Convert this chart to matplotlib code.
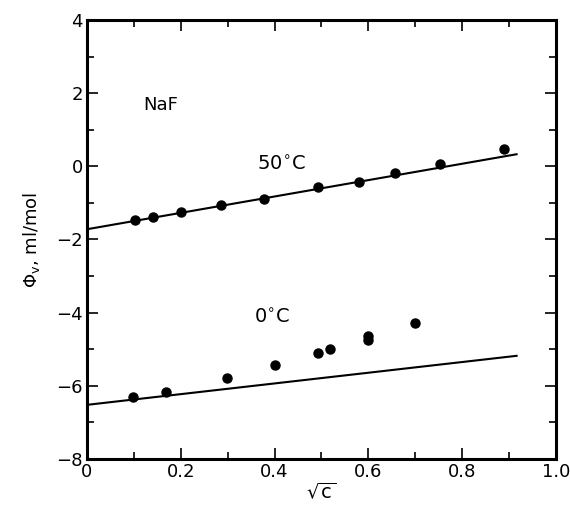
import numpy as np
import matplotlib.pyplot as plt
from matplotlib.ticker import MultipleLocator

# 50 C data points
x50 = [0.103, 0.140, 0.201, 0.285, 0.377, 0.493, 0.580, 0.657, 0.753, 0.890]
y50 = [-1.46, -1.39, -1.24, -1.06, -0.88, -0.57, -0.43, -0.19, 0.06, 0.46]
# 0 C data points
x0 = [0.098, 0.169, 0.299, 0.400, 0.492, 0.518, 0.600, 0.600, 0.700]
y0 = [-6.31, -6.16, -5.79, -5.43, -5.09, -4.99, -4.63, -4.74, -4.27]
# theoretical lines
line_x = [0.0, 0.916]
line50 = [-1.72, 0.33]
line0 = [-6.52, -5.18]

plt.rcParams["font.family"] = ["DejaVu Sans"]
plt.rcParams["mathtext.fontset"] = "dejavusans"

fig = plt.figure(figsize=(5.7, 5.07), dpi=100)
ax = fig.add_axes([0.1526, 0.0947, 0.8228, 0.8659])

ax.plot(line_x, line50, color="black", lw=1.5)
ax.plot(line_x, line0, color="black", lw=1.5)
ax.plot(x50, y50, "o", color="black", ms=6.5)
ax.plot(x0, y0, "o", color="black", ms=6.5)

ax.text(0.12, 1.68, "NaF", fontsize=13, va="center", ha="left")
ax.text(0.415, 0.04, "50$^{\\circ}$C", fontsize=14, va="center", ha="center")
ax.text(0.395, -4.14, "0$^{\\circ}$C", fontsize=14, va="center", ha="center")

ax.set_xlim(0, 1.0)
ax.set_ylim(-8, 4)
ax.xaxis.set_major_locator(MultipleLocator(0.2))
ax.xaxis.set_minor_locator(MultipleLocator(0.1))
ax.yaxis.set_major_locator(MultipleLocator(2))
ax.yaxis.set_minor_locator(MultipleLocator(1))
ax.set_xticks([0, 0.2, 0.4, 0.6, 0.8, 1.0])
ax.set_xticklabels(["0", "0.2", "0.4", "0.6", "0.8", "1.0"])
ax.tick_params(which="both", direction="in", top=True, right=True, labelsize=13, width=1.2, pad=3)
ax.tick_params(which="major", length=8)
ax.tick_params(which="minor", length=5)
for s in ax.spines.values():
    s.set_linewidth(2.2)

ax.set_xlabel("$\\sqrt{\\mathrm{c}}$", fontsize=14, labelpad=0)
ax.set_ylabel("$\\Phi_{\\mathrm{v}}$, ml/mol", fontsize=13, labelpad=10)

fig.savefig("out.png", dpi=100)
plt.close(fig)
